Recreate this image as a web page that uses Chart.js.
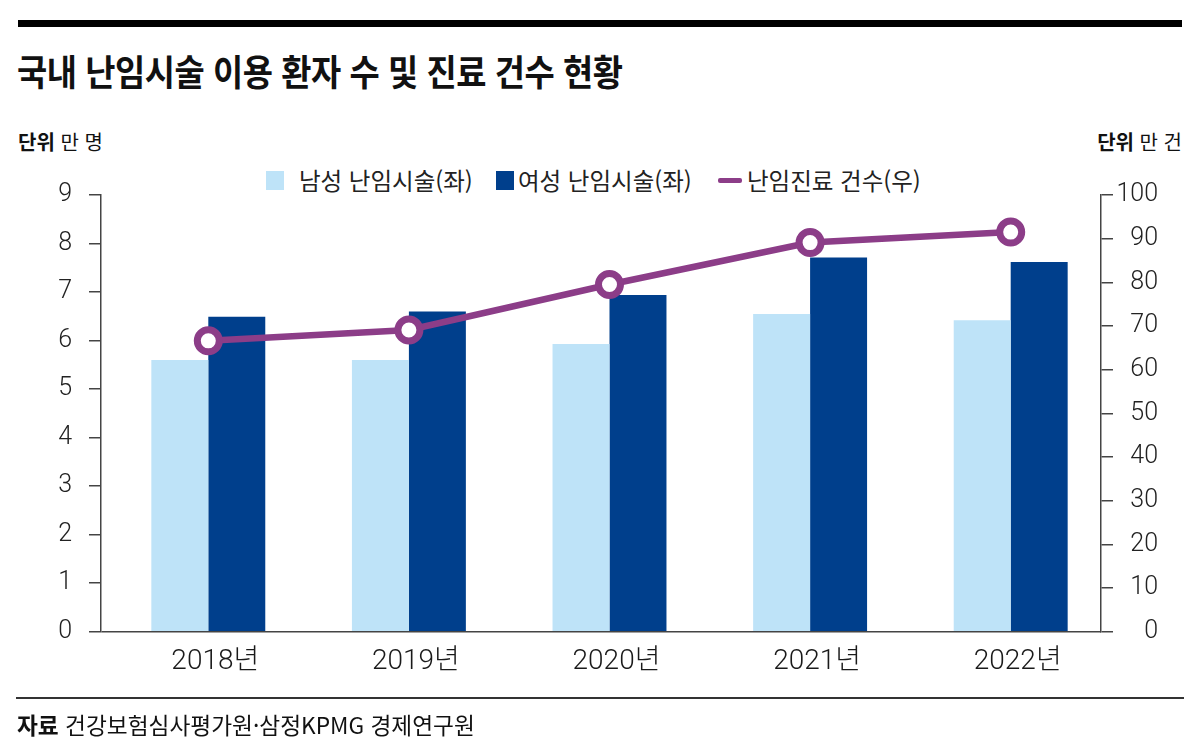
<!DOCTYPE html>
<html lang="ko">
<head>
<meta charset="utf-8">
<script src="https://cdn.jsdelivr.net/npm/chart.js@4/dist/chart.umd.min.js"></script>
<style>
  html, body { margin:0; padding:0; background:#fff; }
  body { width:1200px; height:755px; position:relative; overflow:hidden; font-family:"Noto Sans CJK KR", sans-serif; color:#111; }
  #c { position:absolute; left:0; top:0; }
  .abs { position:absolute; white-space:nowrap; }
  #topRule { left:18px; top:20px; width:1164px; height:7px; background:#000; }
  #title { left:17px; top:48px; font-size:36px; font-weight:700; line-height:44px; transform:scaleX(0.912); transform-origin:left center; letter-spacing:-0.5px; }
  .unit { top:128px; font-size:20px; line-height:28px; color:#111; }
  .unit b { font-weight:700; }
  #unitL { left:18px; }
  #unitR { right:18px; }
  .lg { top:165px; font-size:23.5px; line-height:30px; color:#222; }
  .sw { position:absolute; }
  #bottomRule { left:16px; top:697px; width:1168px; height:2px; background:#333; }
  #source { left:17px; top:711px; font-size:22.7px; line-height:28px; color:#111; }
  #source b { font-weight:700; }
</style>
</head>
<body>
<div id="topRule" class="abs"></div>
<div id="title" class="abs">국내 난임시술 이용 환자 수 및 진료 건수 현황</div>
<div id="unitL" class="abs unit"><b>단위</b> 만 명</div>
<div id="unitR" class="abs unit"><b>단위</b> 만 건</div>

<div class="sw" style="left:266px;top:171px;width:18px;height:19px;background:#bee3f8;"></div>
<div class="abs lg" style="left:299px;" id="lg1"></div>
<div class="sw" style="left:496px;top:171px;width:18px;height:19px;background:#003f8c;"></div>
<div class="abs lg" style="left:518px;" id="lg2"></div>
<div class="sw" style="left:718px;top:178px;width:24px;height:5px;background:#8c3d88;border-radius:2px;"></div>
<div class="abs lg" style="left:747px;" id="lg3"></div>

<canvas id="c" width="1200" height="755"></canvas>

<div id="bottomRule" class="abs"></div>
<div id="source" class="abs"><b>자료</b> 건강보험심사평가원·삼정KPMG 경제연구원</div>

<script>
// ---- data ----
const categories = ['2018년', '2019년', '2020년', '2021년', '2022년'];
const maleValues = [5.6, 5.6, 5.93, 6.55, 6.42];      // 남성 난임시술 (만 명, 좌)
const femaleValues = [6.49, 6.6, 6.94, 7.71, 7.62];   // 여성 난임시술 (만 명, 좌)
const treatmentCounts = [66.6, 69.1, 79.5, 89.1, 91.5]; // 난임진료 건수 (만 건, 우)
const seriesNames = ['남성 난임시술(좌)', '여성 난임시술(좌)', '난임진료 건수(우)'];
const leftTicks = [0, 1, 2, 3, 4, 5, 6, 7, 8, 9];
const rightTicks = [0, 10, 20, 30, 40, 50, 60, 70, 80, 90, 100];

document.getElementById('lg1').textContent = seriesNames[0];
document.getElementById('lg2').textContent = seriesNames[1];
document.getElementById('lg3').textContent = seriesNames[2];

const tickFont = { family: 'Roboto, "Noto Sans CJK KR", sans-serif', size: 25, weight: '300' };
const axisColor = '#444';

const shiftPlugin = {
  id: 'shiftX',
  afterLayout(chart) {
    const x = chart.scales.x;
    const w = x.right - x.left;
    x.left = x.left + 7;
    x.right = x.left + w + 3;
    x.configure();
  }
};

new Chart(document.getElementById('c'), {
  data: {
    labels: categories,
    datasets: [
      {
        type: 'line',
        label: seriesNames[2],
        data: treatmentCounts,
        yAxisID: 'y1',
        order: 0,
        borderColor: '#8c3d88',
        borderWidth: 6.5,
        pointRadius: 11,
        pointHoverRadius: 11,
        pointBorderWidth: 7,
        pointBackgroundColor: '#ffffff',
        pointBorderColor: '#8c3d88',
        tension: 0,
        fill: false
      },
      {
        type: 'bar',
        label: seriesNames[0],
        data: maleValues,
        yAxisID: 'y',
        order: 1,
        backgroundColor: '#bee3f8',
        borderWidth: 0,
        categoryPercentage: 0.568,
        barPercentage: 1.0
      },
      {
        type: 'bar',
        label: seriesNames[1],
        data: femaleValues,
        yAxisID: 'y',
        order: 1,
        backgroundColor: '#003f8c',
        borderWidth: 0,
        categoryPercentage: 0.568,
        barPercentage: 1.0
      }
    ]
  },
  options: {
    responsive: false,
    animation: false,
    devicePixelRatio: 1,
    layout: { padding: { top: 195, left: 0, right: 42, bottom: 0 } },
    plugins: {
      legend: { display: false },
      tooltip: { enabled: false },
      title: { display: false }
    },
    scales: {
      x: {
        type: 'category',
        offset: true,
        grid: { display: false },
        border: { display: false },
        ticks: { color: '#1a1a1a', font: { family: 'Roboto, "Noto Sans CJK KR", sans-serif', size: 28, weight: '300' }, padding: 5, labelOffset: 7, maxRotation: 0 },
        afterFit(scale) { scale.height = 123.3; }
      },
      y: {
        type: 'linear',
        position: 'left',
        min: 0,
        max: 9,
        afterBuildTicks(scale) { scale.ticks = leftTicks.map(v => ({ value: v })); },
        ticks: { color: '#222', font: tickFont, padding: 17, crossAlign: 'near', callback: v => String(v) },
        grid: {
          drawOnChartArea: true,
          drawTicks: true,
          tickLength: 12,
          lineWidth: 1.5,
          color: ctx => (ctx.tick && ctx.tick.value === 0) ? axisColor : 'rgba(0,0,0,0)',
          tickColor: axisColor
        },
        border: { display: true, color: axisColor, width: 1.5 },
        afterFit(scale) { scale.width = 101; }
      },
      y1: {
        type: 'linear',
        position: 'right',
        min: 0,
        max: 100,
        afterBuildTicks(scale) { scale.ticks = rightTicks.map(v => ({ value: v })); },
        ticks: { color: '#222', font: tickFont, padding: 4, crossAlign: 'far', callback: v => String(v) },
        grid: {
          drawOnChartArea: false,
          drawTicks: true,
          tickLength: 12,
          lineWidth: 1.5,
          color: axisColor
        },
        border: { display: true, color: axisColor, width: 1.5 },
        afterFit(scale) { scale.width = 57; }
      }
    }
  },
  plugins: [shiftPlugin]
});
</script>
</body>
</html>
